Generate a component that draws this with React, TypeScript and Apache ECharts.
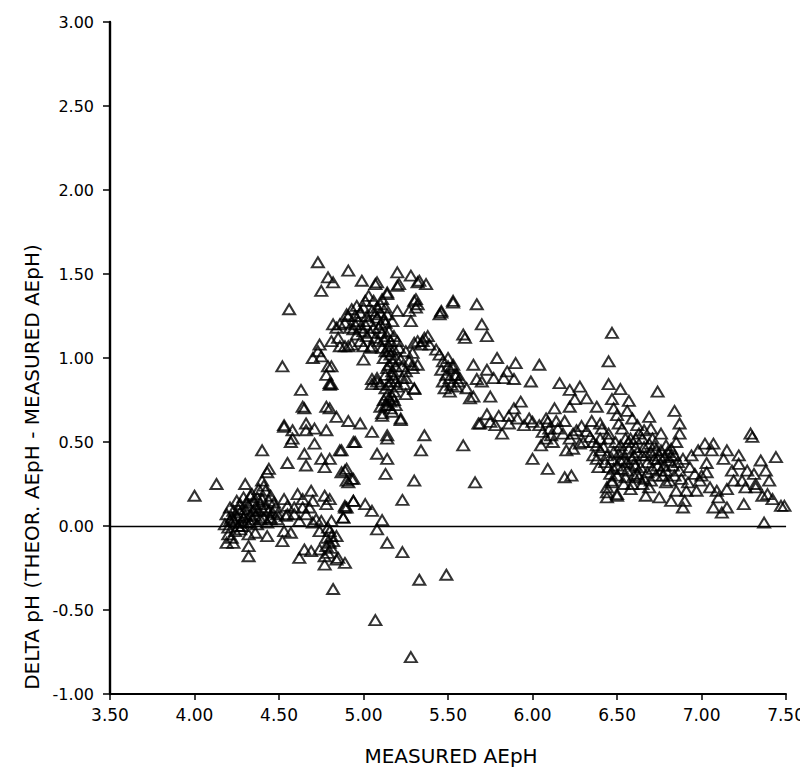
import React, { useEffect, useRef } from "react";
import * as echarts from "echarts";

const xTicks = [3.5, 4.0, 4.5, 5.0, 5.5, 6.0, 6.5, 7.0, 7.5];
const yTicks = [-1.0, -0.5, 0.0, 0.5, 1.0, 1.5, 2.0, 2.5, 3.0];

const xTitle = "MEASURED AEpH";
const yTitle = "DELTA pH (THEOR. AEpH - MEASURED AEpH)";

const outliers = [
  [4.0, 0.18], [4.13, 0.25], [5.07, -0.56], [5.28, -0.78], [5.33, -0.32], [5.49, -0.29],
  [4.82, -0.375], [5.08, -0.02], [5.14, -0.1], [5.23, -0.155], [5.11, 0.035], [5.05, 0.09],
];

const lowCluster = [
  [4.4, 0.45], [4.44, 0.34], [4.3, 0.25], [4.4, 0.27], [4.43, 0.32], [4.33, 0.18],
  [4.19, 0.07], [4.21, 0.03], [4.23, 0.09], [4.27, 0.13], [4.29, 0.05], [4.33, 0.07], [4.36, 0.11],
  [4.4, 0.16], [4.42, 0.21], [4.45, 0.18], [4.47, 0.14], [4.49, 0.07],
  [4.18, 0.01], [4.2, -0.01], [4.22, 0.05], [4.24, 0.02], [4.25, 0.06], [4.26, 0.0], [4.27, 0.08],
  [4.28, 0.03], [4.3, 0.1], [4.31, 0.02], [4.32, 0.12], [4.34, 0.04], [4.35, 0.15], [4.36, 0.06],
  [4.37, 0.01], [4.38, 0.09], [4.39, 0.13], [4.41, 0.05], [4.42, 0.11], [4.43, 0.02], [4.44, 0.15],
  [4.46, 0.08], [4.48, 0.11], [4.34, 0.19], [4.38, 0.22], [4.41, 0.24], [4.45, 0.04], [4.21, 0.11],
  [4.25, 0.15], [4.29, 0.17],
  [4.23, 0.04], [4.26, 0.1], [4.3, 0.06], [4.33, 0.02], [4.35, 0.09], [4.39, 0.04], [4.4, 0.1],
  [4.44, 0.09], [4.28, 0.0], [4.24, -0.03], [4.37, 0.17], [4.31, 0.14],
  [4.53, 0.16], [4.55, 0.12], [4.61, 0.19], [4.64, 0.16], [4.69, 0.21], [4.7, 0.15], [4.77, 0.18],
  [4.78, 0.13], [4.55, 0.07], [4.59, 0.07], [4.66, 0.07], [4.45, 0.05], [4.49, 0.04], [4.62, 0.03],
  [4.72, 0.04], [4.75, 0.03], [4.81, 0.03], [4.88, 0.05], [4.9, 0.11],
  [4.59, 0.11], [4.64, 0.11], [4.68, 0.11], [4.89, 0.12], [4.94, 0.15], [5.01, 0.13], [4.54, 0.06],
  [4.7, 0.02], [4.8, 0.16],
  [4.19, -0.1], [4.23, -0.1], [4.2, -0.05], [4.32, -0.05], [4.32, -0.12], [4.32, -0.18], [4.36, -0.04],
  [4.43, -0.06], [4.52, -0.09], [4.53, -0.03], [4.57, -0.04], [4.22, -0.07], [4.27, -0.02],
  [4.62, -0.19], [4.65, -0.14], [4.69, -0.15], [4.74, -0.14], [4.77, -0.18], [4.77, -0.23],
  [4.84, -0.2], [4.89, -0.22], [4.78, -0.07], [4.8, -0.03], [4.74, -0.03], [4.84, -0.06],
  [4.81, -0.06], [4.85, -0.19], [4.79, -0.01], [4.8, -0.1], [4.81, -0.13], [4.79, -0.16],
  [4.82, -0.09], [4.78, -0.12],
];

const humpLower = [
  [4.55, 0.375], [4.63, 0.81], [4.65, 0.7], [4.8, 0.84], [4.53, 0.59], [4.66, 0.61], [4.58, 0.52],
  [4.57, 0.5], [4.71, 0.49], [4.78, 0.71], [4.8, 0.7], [4.84, 0.65], [4.91, 0.625], [4.98, 0.61],
  [4.95, 0.5], [4.86, 0.45], [4.75, 0.4], [4.8, 0.4], [4.65, 0.43], [4.66, 0.36], [4.77, 0.35],
  [4.87, 0.32], [4.9, 0.34], [4.93, 0.28], [4.91, 0.26], [4.53, 0.6], [4.58, 0.57], [4.66, 0.57],
  [4.71, 0.58], [4.78, 0.57], [4.52, 0.95], [4.64, 0.71], [4.79, 0.95], [4.78, 0.9], [4.8, 0.85],
  [4.81, 0.95], [4.81, 0.845],
  [5.05, 0.56], [4.94, 0.5], [5.14, 0.52], [5.08, 0.43], [5.14, 0.4], [5.13, 0.31], [4.87, 0.45],
  [5.36, 0.54], [5.34, 0.45], [5.3, 0.27], [5.23, 0.155], [4.89, 0.33], [4.9, 0.27], [4.94, 0.28],
  [4.94, 0.15], [4.89, 0.11], [4.88, 0.05],
  [5.11, 0.655], [5.22, 0.63], [5.1, 0.71], [5.14, 0.72], [5.17, 0.68], [5.11, 0.67], [5.22, 0.64],
  [5.14, 0.54], [5.12, 0.75], [5.14, 0.78], [5.16, 0.74], [5.18, 0.8], [5.13, 0.82], [5.15, 0.84],
  [5.17, 0.77], [5.19, 0.72], [5.2, 0.83], [5.16, 0.7],
  [5.15, 0.76], [5.18, 0.75], [5.13, 0.72], [5.19, 0.86],
];

const humpUpper = [
  [4.73, 1.57], [4.91, 1.52], [4.79, 1.48], [4.82, 1.45], [4.75, 1.4], [4.56, 1.29], [4.99, 1.46],
  [5.07, 1.44], [5.08, 1.45], [5.14, 1.39], [5.2, 1.51], [5.21, 1.44], [5.28, 1.49], [5.33, 1.46],
  [5.37, 1.44], [5.2, 1.43], [5.32, 1.45],
  [5.14, 1.38], [5.03, 1.37], [5.01, 1.34], [5.06, 1.34], [5.1, 1.32], [4.96, 1.31], [4.93, 1.29],
  [4.91, 1.25], [4.98, 1.27], [5.02, 1.25], [5.1, 1.27], [5.14, 1.26], [5.2, 1.28], [5.27, 1.28],
  [5.28, 1.22], [5.31, 1.35], [5.32, 1.32], [5.3, 1.34], [5.31, 1.3], [5.46, 1.28], [5.45, 1.26],
  [5.53, 1.34],
  [4.82, 1.2], [4.86, 1.2], [4.89, 1.21], [4.92, 1.18], [4.95, 1.2], [4.98, 1.18], [5.0, 1.16],
  [5.06, 1.18], [5.1, 1.2], [5.13, 1.21], [5.15, 1.16], [4.81, 1.1], [4.85, 1.12], [4.89, 1.07],
  [4.93, 1.08], [4.98, 1.1], [5.0, 1.07], [5.04, 1.06], [5.07, 1.12], [5.12, 1.11], [5.15, 1.07],
  [5.2, 1.1], [5.21, 1.06], [5.0, 0.99],
  [4.84, 1.18], [4.9, 1.26], [4.94, 1.17], [4.74, 1.08], [4.73, 1.04], [4.7, 1.0], [4.75, 1.01],
  [4.86, 1.07], [4.91, 1.07], [5.05, 1.07],
  [5.16, 1.02], [5.15, 0.96], [5.17, 0.9], [5.16, 0.86], [5.15, 1.04], [5.17, 0.98],
  [5.11, 1.06], [5.12, 1.0], [5.14, 0.94], [5.17, 0.92],
  [5.22, 0.99], [5.25, 1.04], [5.27, 0.98], [5.29, 1.03], [5.3, 1.09], [5.32, 1.1], [5.36, 1.12],
  [5.38, 1.13], [5.39, 1.08], [5.43, 1.05], [5.32, 0.96], [5.29, 0.94], [5.25, 0.92], [5.35, 1.1],
  [5.34, 1.08],
  [5.45, 1.02], [5.47, 0.98], [5.46, 0.93], [5.5, 0.95], [5.53, 0.96], [5.54, 0.9], [5.56, 0.86],
  [5.51, 0.88], [5.48, 0.82], [5.51, 0.8], [5.55, 0.9], [5.53, 0.94],
  [5.05, 0.875], [5.08, 0.88], [5.05, 0.845], [5.1, 0.845], [5.23, 0.88], [5.24, 0.845], [5.3, 0.815],
  [5.25, 0.785], [5.23, 0.95], [5.29, 0.96], [5.25, 0.88], [5.3, 0.82], [5.08, 0.86],
  [5.03, 1.22], [5.05, 1.28], [5.08, 1.24], [5.11, 1.15], [5.09, 1.1], [5.02, 1.13], [4.96, 1.14],
  [5.13, 1.3], [5.17, 1.22], [5.18, 1.13],
  [5.01, 1.2], [5.04, 1.15], [5.07, 1.26], [5.09, 1.18], [5.12, 1.23], [5.14, 1.13], [5.16, 1.1],
  [5.18, 1.05], [5.19, 0.95], [5.13, 1.04], [5.08, 1.3], [4.97, 1.22], [4.95, 1.25], [5.0, 1.3],
  [5.11, 1.35], [5.19, 1.0], [5.18, 0.88], [5.13, 0.9],
];

const midBand = [
  [5.53, 1.33], [5.67, 1.32], [5.46, 1.27], [5.7, 1.2], [5.73, 1.13], [5.59, 1.14], [5.6, 1.12],
  [6.47, 1.15], [6.45, 0.98],
  [5.79, 1.0], [5.9, 0.97], [6.04, 0.96], [5.65, 0.96], [5.73, 0.93], [5.85, 0.92],
  [5.47, 0.86], [5.49, 0.9], [5.52, 0.84], [5.55, 0.83], [5.5, 1.0], [5.57, 0.88],
  [5.61, 0.82], [5.65, 0.77], [5.63, 0.76], [5.67, 0.875], [5.7, 0.86], [5.77, 0.88], [5.83, 0.88],
  [5.89, 0.875], [5.75, 0.77], [5.99, 0.86],
  [6.16, 0.85], [6.22, 0.81], [6.28, 0.83], [6.32, 0.76], [6.25, 0.755], [6.22, 0.71], [6.38, 0.71],
  [6.13, 0.7],
  [5.93, 0.74], [5.89, 0.7], [5.86, 0.655], [5.73, 0.665], [5.8, 0.655], [5.69, 0.61], [5.82, 0.55],
  [5.86, 0.61], [5.91, 0.64], [5.98, 0.64], [5.68, 0.61],
  [6.04, 0.6], [6.06, 0.56], [6.08, 0.52], [6.1, 0.58], [6.12, 0.5], [6.05, 0.48], [6.09, 0.62],
  [6.11, 0.54],
  [6.08, 0.64], [6.14, 0.625], [6.19, 0.625], [6.24, 0.55], [6.29, 0.595], [6.32, 0.565],
  [6.35, 0.625], [6.41, 0.58], [6.2, 0.45], [6.24, 0.46], [6.28, 0.49],
  [5.59, 0.48], [5.66, 0.26], [6.0, 0.4], [6.09, 0.34], [6.19, 0.29], [6.23, 0.3],
  [5.75, 0.62], [5.78, 0.6], [5.95, 0.6], [6.0, 0.62], [6.15, 0.58], [6.18, 0.55], [6.22, 0.52],
  [6.26, 0.57], [6.3, 0.5], [6.34, 0.53], [6.38, 0.48], [6.36, 0.42], [6.4, 0.45],
];

const rightCluster = [
  [6.47, 0.26], [6.5, 0.19], [6.44, 0.2],
  [6.36, 0.5], [6.38, 0.4], [6.39, 0.35], [6.42, 0.47], [6.43, 0.38], [6.45, 0.55], [6.46, 0.31],
  [6.48, 0.44], [6.49, 0.5], [6.5, 0.36], [6.52, 0.48], [6.54, 0.4], [6.56, 0.33], [6.57, 0.46],
  [6.58, 0.52], [6.6, 0.37], [6.62, 0.44], [6.63, 0.55],
  [6.45, 0.845], [6.52, 0.815], [6.47, 0.755], [6.74, 0.8], [6.57, 0.745], [6.56, 0.685],
  [6.59, 0.64], [6.69, 0.65], [6.84, 0.685], [6.87, 0.61], [6.87, 0.55], [7.29, 0.55], [7.3, 0.53],
  [7.02, 0.49], [7.07, 0.49], [7.06, 0.45], [7.15, 0.45], [7.13, 0.4], [7.22, 0.42], [7.35, 0.39],
  [7.44, 0.41], [7.03, 0.375], [7.03, 0.32], [6.99, 0.27], [6.97, 0.21], [7.05, 0.23], [7.09, 0.21],
  [7.1, 0.17], [7.07, 0.11], [7.12, 0.08], [7.15, 0.11],
  [7.15, 0.22], [7.19, 0.27], [7.18, 0.33], [7.22, 0.37], [7.27, 0.33], [7.31, 0.31], [7.32, 0.25],
  [7.38, 0.33], [7.4, 0.27], [7.39, 0.19], [7.42, 0.16], [7.47, 0.12], [7.49, 0.12], [7.25, 0.13],
  [7.37, 0.02], [7.36, 0.18], [7.24, 0.27], [7.26, 0.23], [7.32, 0.23],
  [6.44, 0.17], [6.5, 0.18], [6.67, 0.18], [6.75, 0.17], [6.82, 0.15], [6.89, 0.11], [6.9, 0.15],
  [6.91, 0.21], [6.44, 0.23], [6.47, 0.27], [6.59, 0.25], [6.65, 0.25], [6.69, 0.23], [6.79, 0.26],
  [6.85, 0.21],
  [6.4, 0.61], [6.4, 0.52], [6.51, 0.61], [6.53, 0.58], [6.45, 0.52], [6.55, 0.52], [6.61, 0.52],
  [6.65, 0.52], [6.71, 0.52], [6.79, 0.48], [6.82, 0.46],
  [6.44, 0.42], [6.51, 0.43], [6.59, 0.4], [6.65, 0.42], [6.74, 0.4], [6.81, 0.39], [6.89, 0.4],
  [6.45, 0.35], [6.53, 0.34], [6.61, 0.36], [6.71, 0.34], [6.79, 0.33], [6.87, 0.33], [6.93, 0.35],
  [6.96, 0.31], [6.55, 0.29], [6.63, 0.29], [6.73, 0.3], [6.81, 0.27],
  [6.66, 0.47], [6.68, 0.38], [6.7, 0.44], [6.72, 0.48], [6.74, 0.36], [6.76, 0.45], [6.77, 0.3],
  [6.78, 0.41], [6.8, 0.44], [6.83, 0.36], [6.84, 0.42], [6.86, 0.38], [6.88, 0.28], [6.85, 0.5],
  [6.67, 0.42], [6.62, 0.31], [6.58, 0.22], [6.7, 0.27], [6.92, 0.26], [6.94, 0.42], [6.98, 0.45],
  [7.0, 0.3],
  [6.62, 0.6], [6.66, 0.57], [6.7, 0.58], [6.76, 0.55], [6.5, 0.66], [6.48, 0.7],
  [6.47, 0.4], [6.53, 0.44], [6.56, 0.38], [6.6, 0.42], [6.64, 0.35], [6.68, 0.32], [6.72, 0.4],
  [6.75, 0.42], [6.78, 0.36], [6.82, 0.42], [6.57, 0.5], [6.61, 0.47], [6.69, 0.49], [6.73, 0.45],
  [6.5, 0.3], [6.54, 0.25], [6.6, 0.3], [6.66, 0.28], [6.76, 0.33], [6.84, 0.3], [6.48, 0.34],
  [6.52, 0.39],
];

const FONT = "DejaVu Sans";

export default function App() {
  const ref = useRef<HTMLDivElement>(null);
  useEffect(() => {
    if (!ref.current) return;
    const chart = echarts.init(ref.current, undefined, { renderer: "svg" });
    const all = [...outliers, ...lowCluster, ...humpLower, ...humpUpper, ...midBand, ...rightCluster];
    chart.setOption({
      animation: false,
      backgroundColor: "#ffffff",
      grid: { left: 110, right: 21, top: 22, bottom: 85, containLabel: false },
      xAxis: {
        type: "value",
        min: xTicks[0],
        max: xTicks[xTicks.length - 1],
        interval: 0.5,
        axisLine: { show: true, onZero: false, lineStyle: { color: "#000", width: 1.8 } },
        axisTick: { show: true, length: 6, lineStyle: { color: "#000", width: 1.5 } },
        axisLabel: {
          fontFamily: FONT,
          fontSize: 17,
          color: "#000",
          margin: 12,
          formatter: (v: number) => v.toFixed(2),
        },
        splitLine: { show: false },
      },
      yAxis: {
        type: "value",
        min: yTicks[0],
        max: yTicks[yTicks.length - 1],
        interval: 0.5,
        axisLine: { show: true, onZero: false, lineStyle: { color: "#000", width: 2.4 } },
        axisTick: { show: true, length: 7, lineStyle: { color: "#000", width: 1.5 } },
        axisLabel: {
          fontFamily: FONT,
          fontSize: 16,
          color: "#000",
          margin: 16,
          formatter: (v: number) => v.toFixed(2),
        },
        splitLine: { show: false },
      },
      graphic: [
        {
          type: "text",
          x: 32,
          y: 467,
          rotation: Math.PI / 2,
          style: {
            text: yTitle,
            fontFamily: FONT,
            fontSize: 20,
            fill: "#000",
            align: "center",
            verticalAlign: "middle",
          },
        },
        {
          type: "text",
          x: 451,
          y: 756,
          style: {
            text: xTitle,
            fontFamily: FONT,
            fontSize: 20,
            fill: "#000",
            align: "center",
            verticalAlign: "middle",
          },
        },
      ],
      series: [
        {
          type: "scatter",
          data: all,
          symbol: "triangle",
          symbolSize: [12, 10],
          itemStyle: { color: "rgba(255,255,255,0)", borderColor: "#000", borderWidth: 2 },
          markLine: {
            silent: true,
            symbol: "none",
            label: { show: false },
            lineStyle: { color: "#000", width: 1.4, type: "solid" },
            data: [{ yAxis: 0 }],
          },
        },
      ],
    });
    return () => chart.dispose();
  }, []);
  return <div ref={ref} style={{ width: 808, height: 779, margin: "-8px 0 0 -8px" }} />;
}
